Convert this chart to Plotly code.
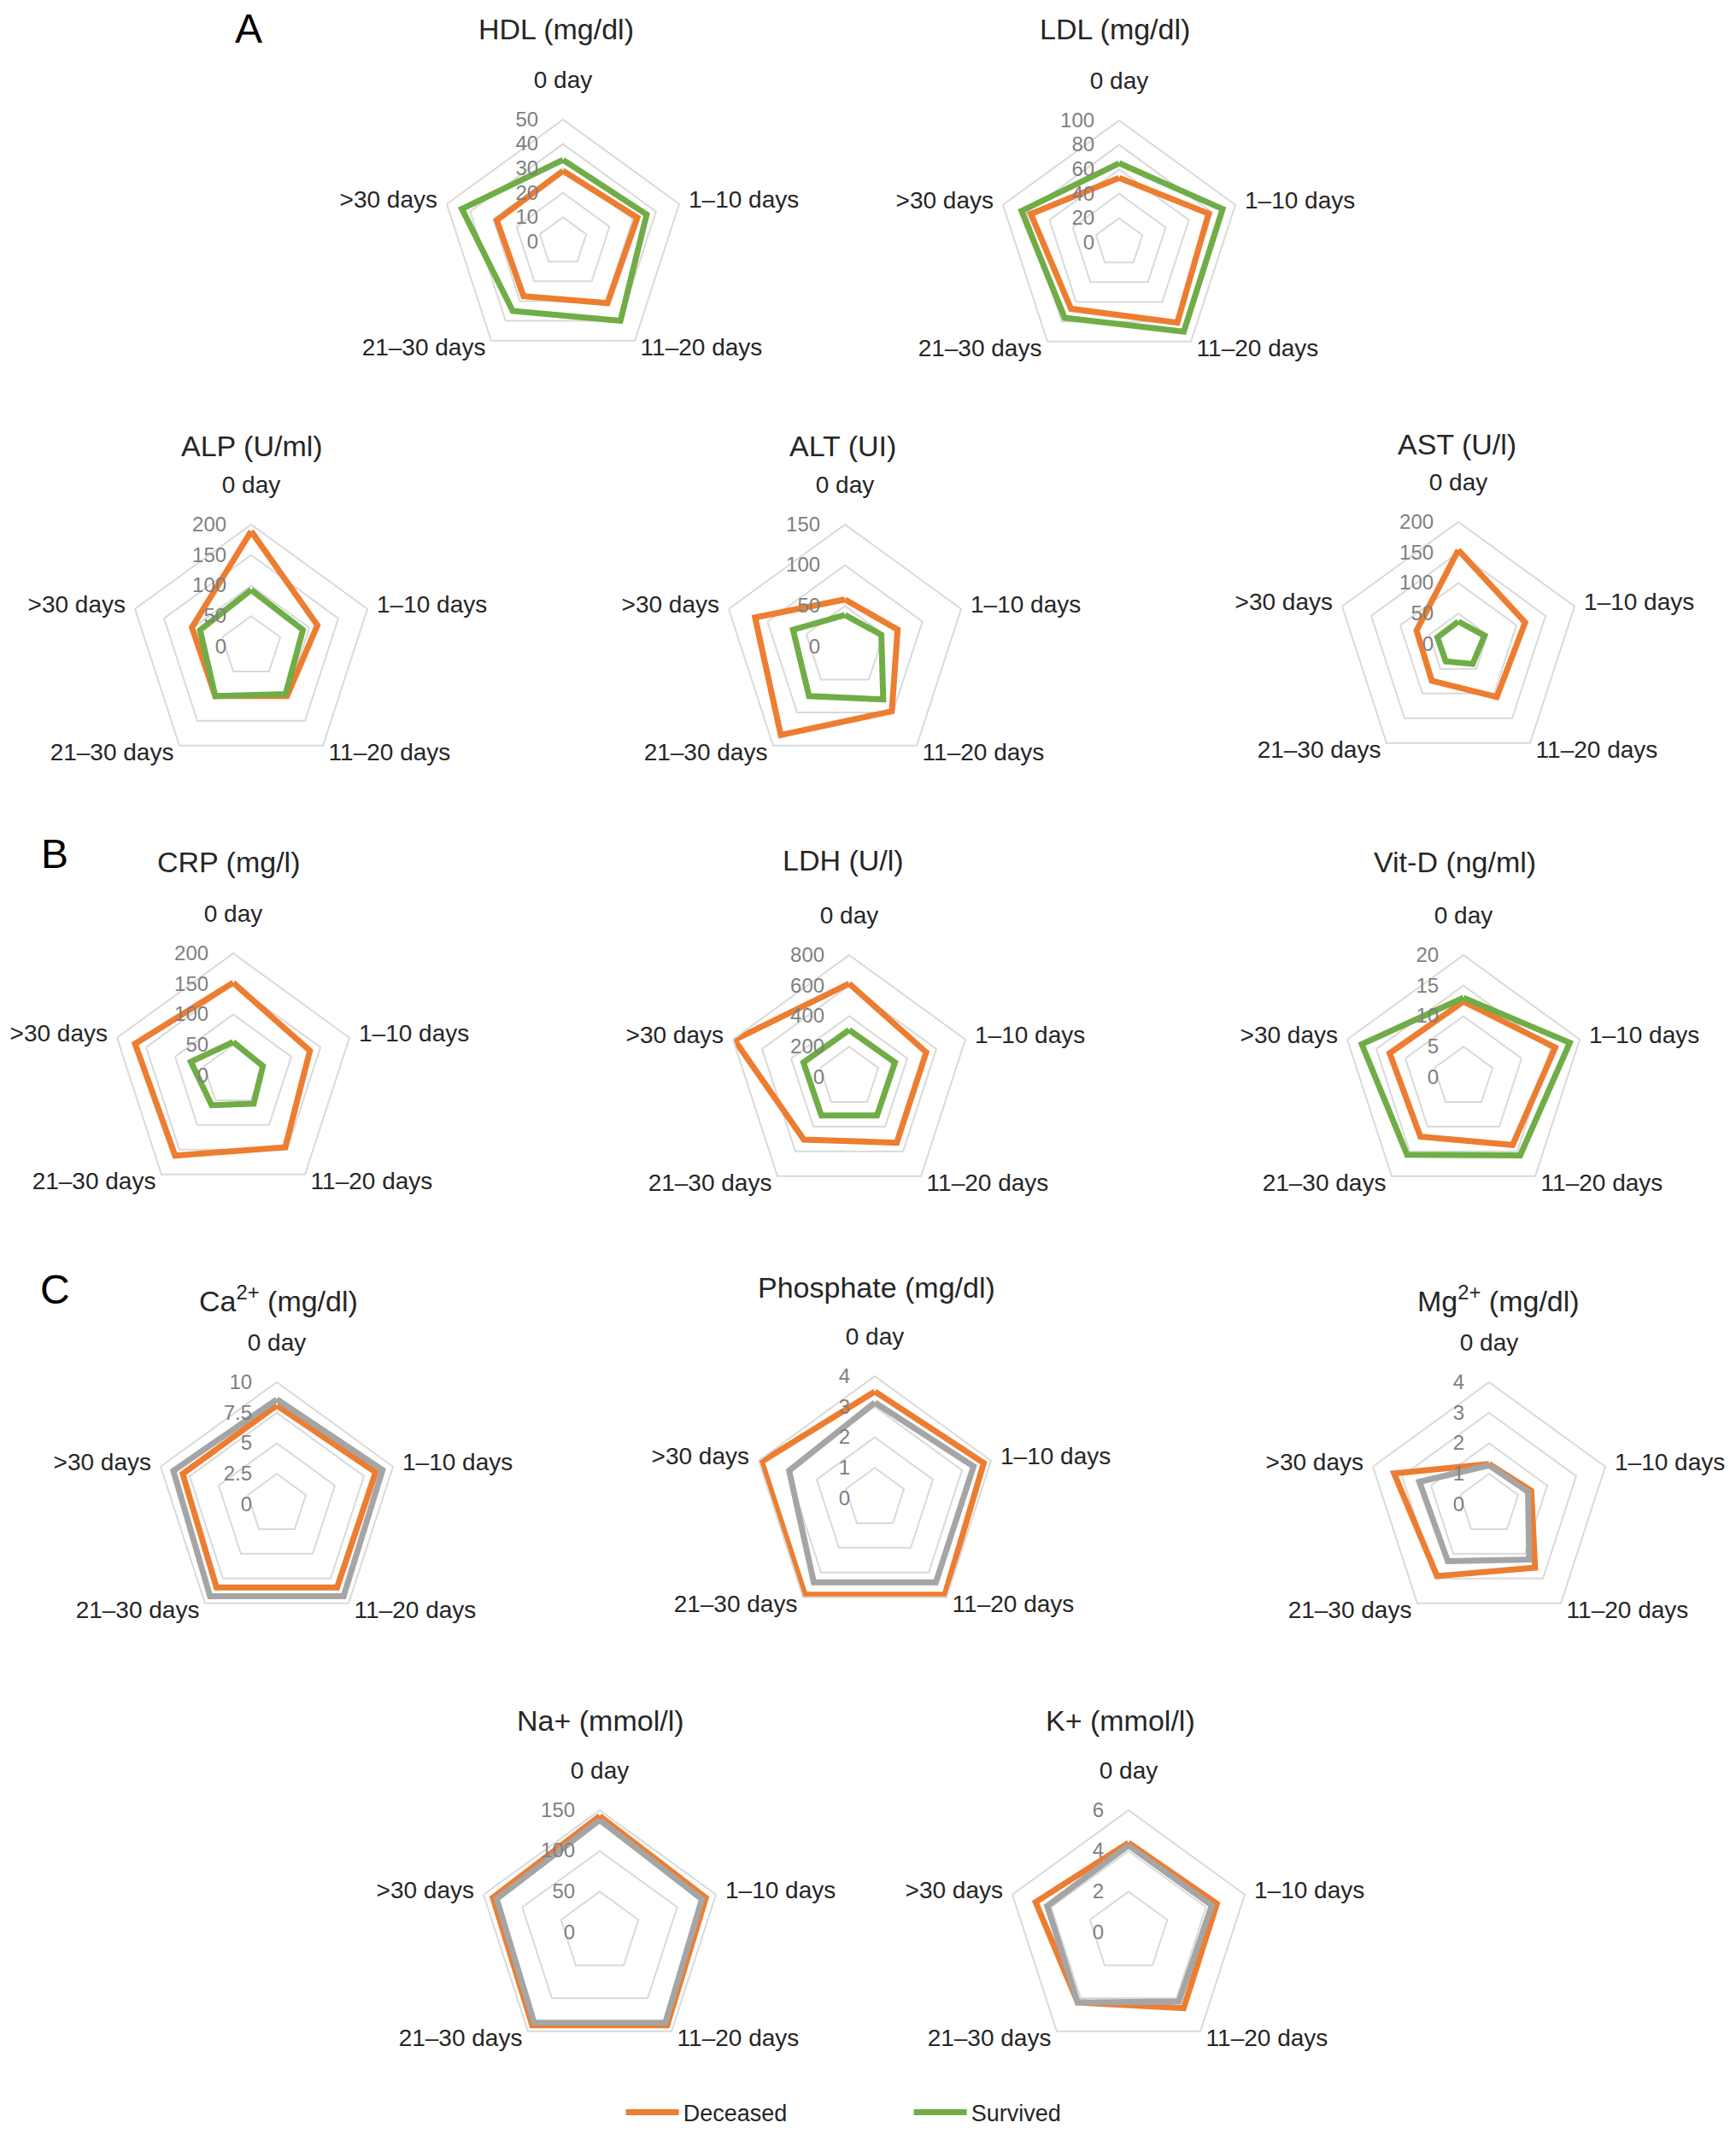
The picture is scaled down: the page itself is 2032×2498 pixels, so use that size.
import plotly.graph_objects as go

W, H = 2032, 2498

categories = ["0 day", "1–10 days", "11–20 days", "21–30 days", ">30 days"]

# ---- Panel A ----
hdl_deceased = [29, 32, 31, 27.5, 28.5]
hdl_survived = [33.5, 36, 40, 35, 43.5]
ldl_deceased = [53, 77, 81, 67, 76]
ldl_survived = [65, 89, 90, 76, 84]
alp_deceased = [189, 114, 100, 100, 102]
alp_survived = [93, 89, 96, 100, 88]
alt_deceased = [58, 68, 98, 134, 116]
alt_survived = [39, 47, 80, 75, 67]
ast_deceased = [154, 115, 107, 74, 72]
ast_survived = [37, 45, 40, 35, 36]
# ---- Panel B ----
crp_deceased = [152, 132, 145, 162, 169]
crp_survived = [55, 51, 57, 60, 73]
ldh_deceased = [613, 530, 530, 505, 790]
ldh_survived = [310, 315, 310, 310, 315]
vitd_deceased = [12.4, 15.8, 13.7, 12, 12.7]
vitd_survived = [13, 18.3, 15.8, 15.7, 17.5]
# ---- Panel C ----
ca_deceased = [8.1, 8.5, 8.4, 8.4, 8.1]
ca_survived = [8.6, 9.1, 9.3, 9.3, 8.9]
phos_deceased = [3.5, 3.75, 3.9, 3.9, 3.9]
phos_survived = [3.14, 3.4, 3.4, 3.4, 2.95]
mg_deceased = [1.32, 1.45, 2.56, 2.9, 3.27]
mg_survived = [1.28, 1.34, 2.23, 2.3, 2.4]
na_deceased = [143, 137, 141, 141, 138]
na_survived = [138, 132, 137, 137, 133]
k_deceased = [4.4, 4.56, 4.6, 4.25, 4.8]
k_survived = [4.27, 4.3, 4.2, 4.25, 4.2]

titles = ["HDL (mg/dl)", "LDL (mg/dl)", "ALP (U/ml)", "ALT (UI)", "AST (U/l)",
          "CRP (mg/l)", "LDH (U/l)", "Vit-D (ng/ml)",
          "Ca<sup>2+</sup> (mg/dl)", "Phosphate (mg/dl)", "Mg<sup>2+</sup> (mg/dl)",
          "Na+ (mmol/l)", "K+ (mmol/l)"]
deceased = [hdl_deceased, ldl_deceased, alp_deceased, alt_deceased, ast_deceased,
            crp_deceased, ldh_deceased, vitd_deceased,
            ca_deceased, phos_deceased, mg_deceased, na_deceased, k_deceased]
survived = [hdl_survived, ldl_survived, alp_survived, alt_survived, ast_survived,
            crp_survived, ldh_survived, vitd_survived,
            ca_survived, phos_survived, mg_survived, na_survived, k_survived]
rmax = [50, 100, 200, 150, 200, 200, 800, 20, 10, 4, 4, 150, 6]
dticks = [10, 20, 50, 50, 50, 50, 200, 5, 2.5, 1, 1, 50, 2]

# layout (pixel positions)
centers = [(651, 275), (1302, 276),
           (286, 749), (981, 749), (1699, 746),
           (265, 1251), (986, 1253), (1705, 1253),
           (316, 1753), (1016, 1746), (1735, 1753),
           (694, 2254), (1313, 2254)]
title_pos = [(643, 26), (1297, 26),
             (287, 514), (978, 514), (1697, 512),
             (260, 1001), (979, 999), (1695, 1001),
             (318, 1512), (1018, 1499), (1746, 1512),
             (695, 2006), (1303, 2006)]
R = 143
LABEL_SHIFT = 20  # top/bottom category labels sit a little higher

# which category labels each layer shows
side_text = [c if c in ("1–10 days", ">30 days") else "" for c in categories]
vert_text = [c if c not in ("1–10 days", ">30 days") else "" for c in categories]

ORANGE = "#ED7D31"
GREEN = "#70AD47"
GRAY = "#A5A5A5"
GRID = "#D9D9D9"
FONT = "Liberation Sans"
CAT_FONT = dict(size=28, color="#262626", family=FONT)

fig = go.Figure()
layout_polars = {}
n = len(titles)
for i in range(n):
    pid = "polar" if i == 0 else f"polar{i+1}"
    lid = f"polar{n + i + 1}"
    cx, cy = centers[i]
    second_color = GREEN if i < 8 else GRAY
    th = categories + [categories[0]]
    fig.add_trace(go.Scatterpolar(
        r=deceased[i] + [deceased[i][0]], theta=th, mode="lines",
        line=dict(color=ORANGE, width=7), name="Deceased",
        showlegend=(i == 0), subplot=pid, hoverinfo="r+theta"))
    fig.add_trace(go.Scatterpolar(
        r=survived[i] + [survived[i][0]], theta=th, mode="lines",
        line=dict(color=second_color, width=7), name="Survived",
        showlegend=(i == 0), subplot=pid, hoverinfo="r+theta"))
    # invisible carrier so the label-only polar is drawn
    fig.add_trace(go.Scatterpolar(
        r=[0] * len(categories), theta=categories, mode="lines",
        line=dict(width=0, color="rgba(0,0,0,0)"), showlegend=False,
        hoverinfo="skip", subplot=lid))
    layout_polars[pid] = dict(
        domain=dict(x=[(cx - R) / W, (cx + R) / W],
                    y=[1 - (cy + R) / H, 1 - (cy - R) / H]),
        gridshape="linear",
        bgcolor="white",
        angularaxis=dict(rotation=90, direction="clockwise", type="category",
                         categoryarray=categories, showgrid=False,
                         showline=True, linecolor=GRID, linewidth=2,
                         tickmode="array", tickvals=categories, ticktext=side_text,
                         ticks="outside", ticklen=5, tickcolor="rgba(0,0,0,0)",
                         tickfont=CAT_FONT),
        radialaxis=dict(range=[0, rmax[i]], tick0=0, dtick=dticks[i], angle=90,
                        showline=False, gridcolor=GRID, gridwidth=2,
                        ticks="outside", ticklen=20, tickcolor="rgba(0,0,0,0)",
                        side="counterclockwise", tickangle=90,
                        tickfont=dict(size=24, color="#7F7F7F", family=FONT)),
    )
    ly = cy - LABEL_SHIFT
    layout_polars[lid] = dict(
        domain=dict(x=[(cx - R) / W, (cx + R) / W],
                    y=[1 - (ly + R) / H, 1 - (ly - R) / H]),
        gridshape="linear",
        bgcolor="rgba(0,0,0,0)",
        angularaxis=dict(rotation=90, direction="clockwise", type="category",
                         categoryarray=categories, showgrid=False, showline=False,
                         tickmode="array", tickvals=categories, ticktext=vert_text,
                         ticks="outside", ticklen=5, tickcolor="rgba(0,0,0,0)",
                         tickfont=CAT_FONT),
        radialaxis=dict(visible=False, range=[0, 1]),
    )

annotations = []
for (tx, ty), t in zip(title_pos, titles):
    annotations.append(dict(text=t, x=tx / W, y=1 - ty / H, xref="paper", yref="paper",
                            showarrow=False, xanchor="center", yanchor="middle",
                            font=dict(size=34, color="#262626", family=FONT)))
for lbl, (lx, ly) in zip(["A", "B", "C"], [(283, 25), (56, 991), (56, 1501)]):
    annotations.append(dict(text=lbl, x=lx / W, y=1 - ly / H, xref="paper", yref="paper",
                            showarrow=False, xanchor="center", yanchor="middle",
                            font=dict(size=48, color="#000000", family=FONT)))

fig.update_layout(
    width=W, height=H,
    margin=dict(l=0, r=0, t=0, b=0),
    paper_bgcolor="white",
    plot_bgcolor="white",
    font=dict(family=FONT),
    annotations=annotations,
    showlegend=True,
    legend=dict(orientation="h", x=0.52, xanchor="center", y=1 - 2465 / H, yanchor="middle",
                font=dict(size=27, color="#262626", family=FONT),
                itemwidth=62, entrywidth=260, entrywidthmode="pixels",
                bgcolor="rgba(0,0,0,0)"),
    **layout_polars,
)

fig.write_html("out.html")
